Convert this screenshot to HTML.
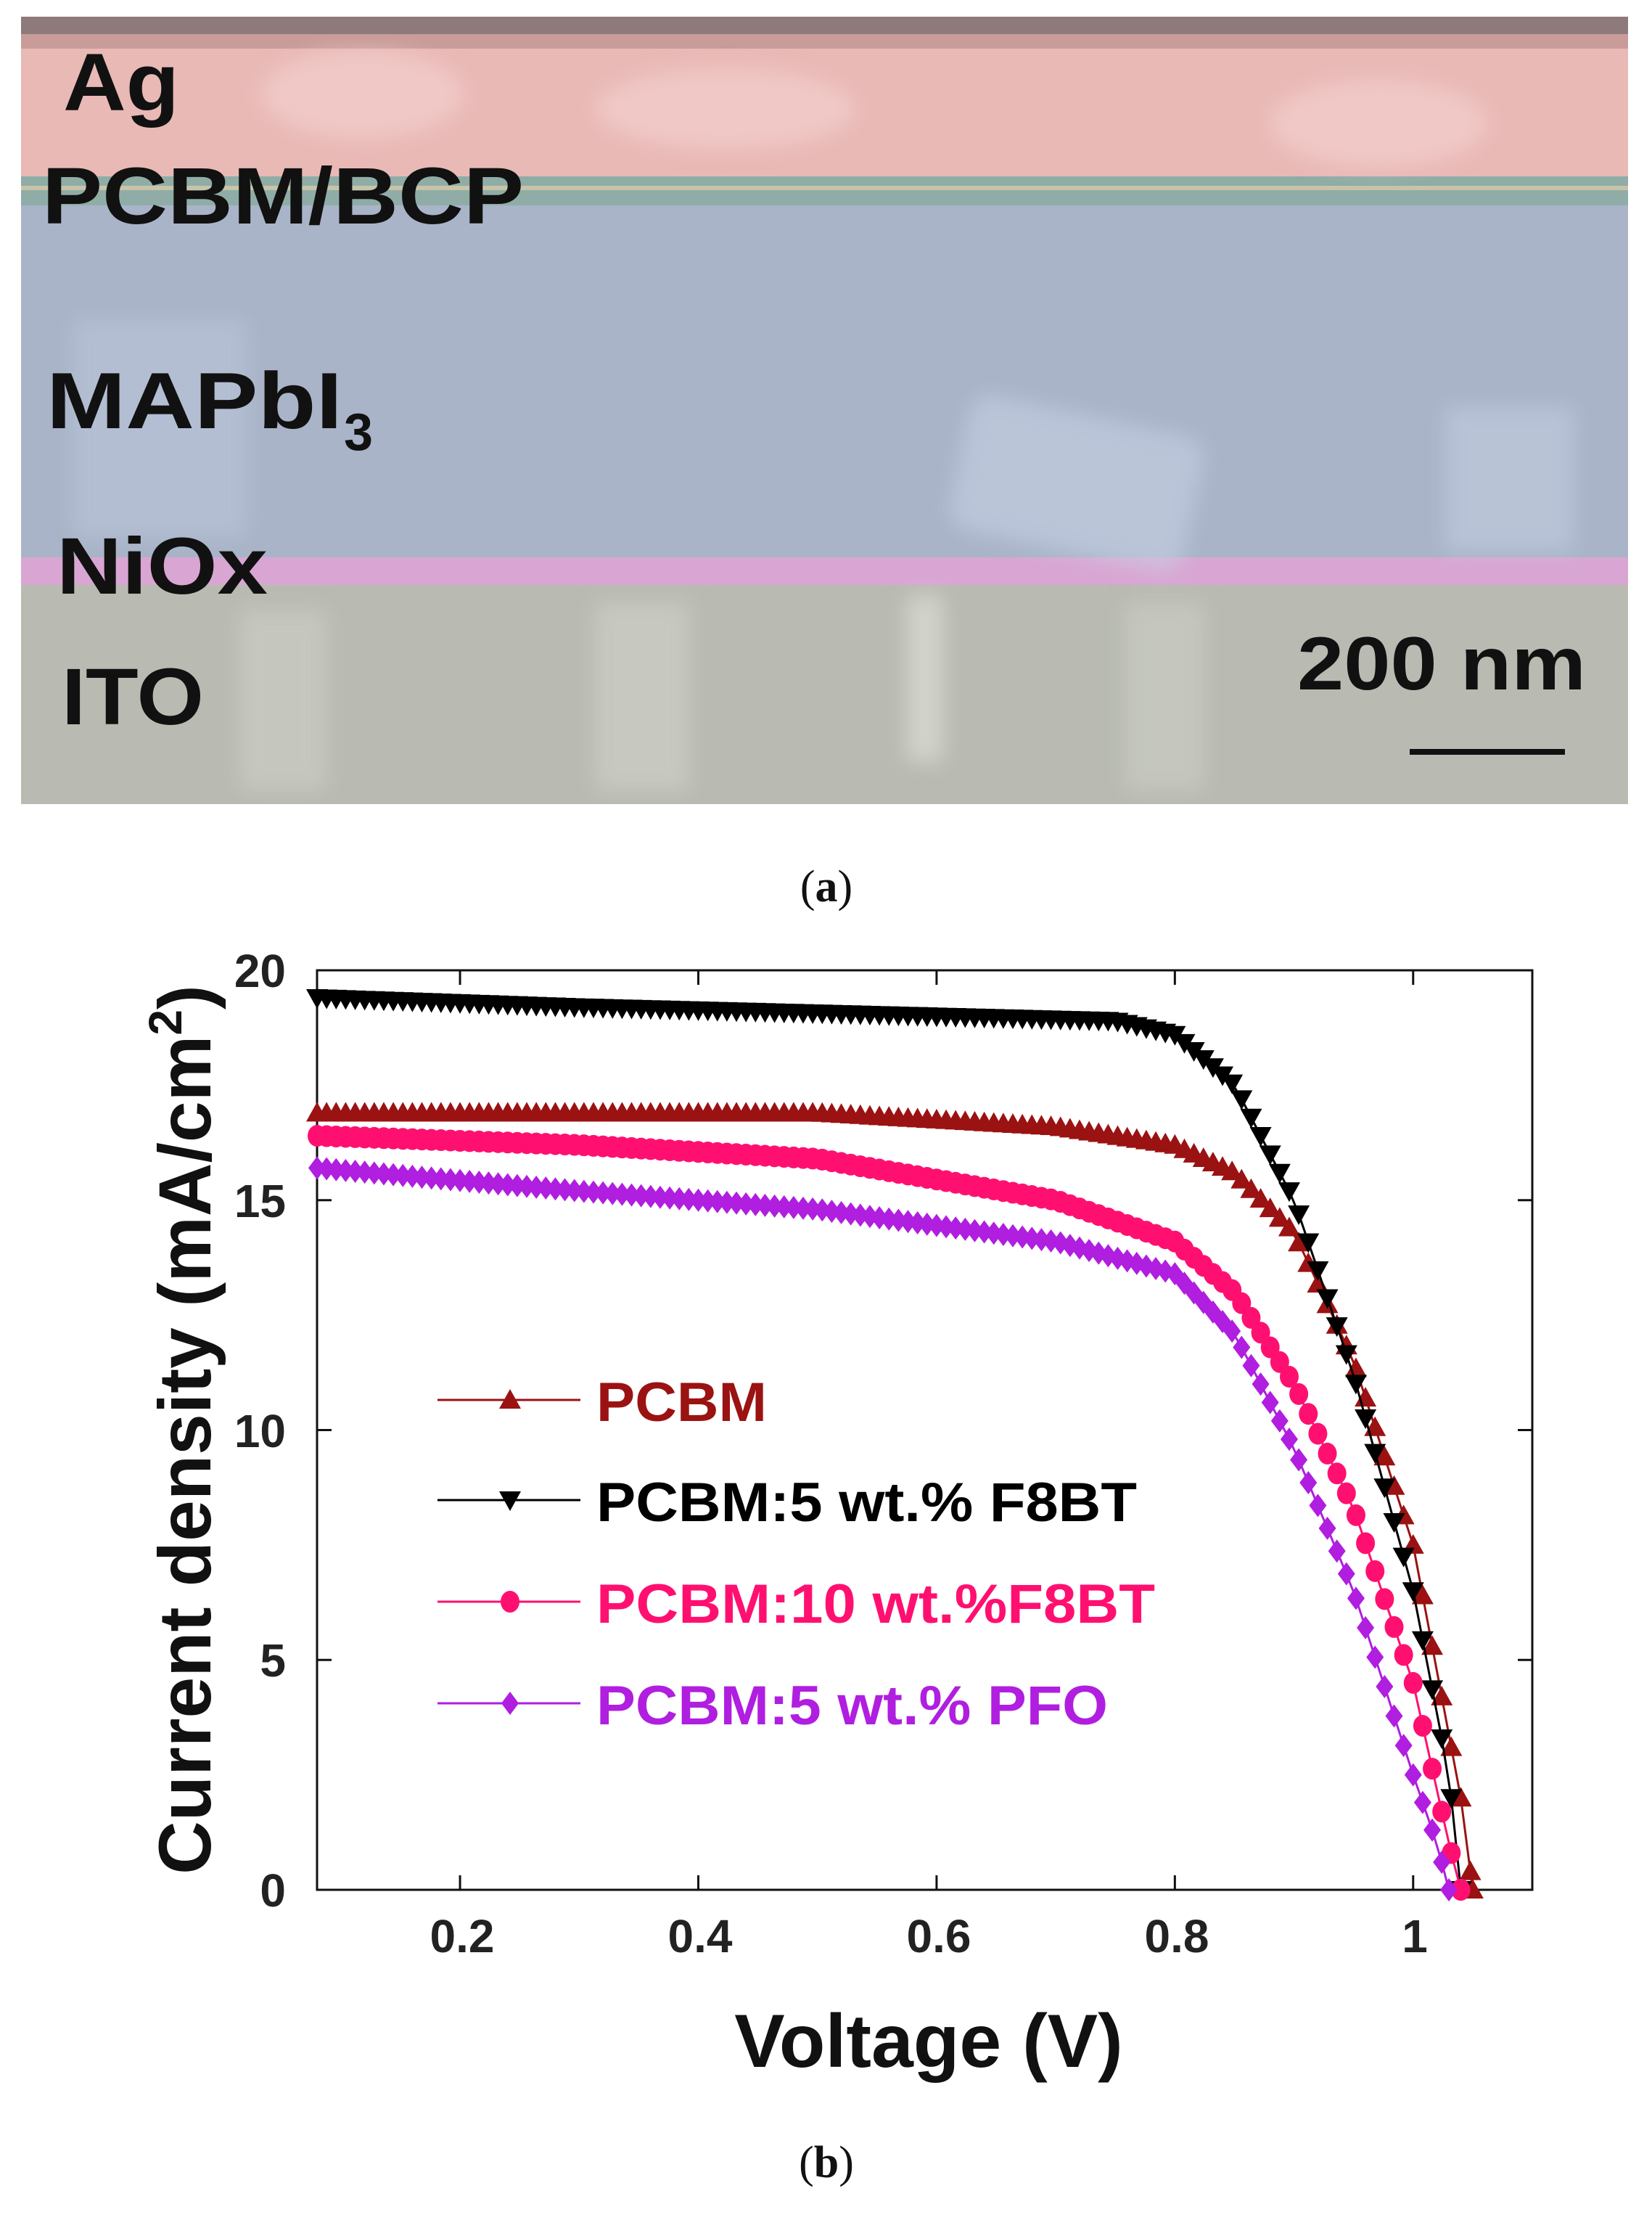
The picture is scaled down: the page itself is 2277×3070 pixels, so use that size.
<!DOCTYPE html>
<html><head><meta charset="utf-8"><style>
html,body{margin:0;padding:0;background:#fff}
svg{display:block}
</style></head><body>
<svg id="s" width="2277" height="3070" viewBox="0 0 2277 3070" xmlns="http://www.w3.org/2000/svg">
<defs>
<filter id="bl" x="-20%" y="-20%" width="140%" height="140%"><feGaussianBlur stdDeviation="14"/></filter>
<clipPath id="semc"><rect x="29" y="23" width="2215" height="1085"/></clipPath>
</defs>
<g clip-path="url(#semc)">
<rect x="29" y="23" width="2215" height="1085" fill="#b9bbb2"/>
<rect x="29" y="23" width="2215" height="222" fill="#e9b9b6"/>
<rect x="29" y="23" width="2215" height="24" fill="#8e7a7a"/>
<rect x="29" y="47" width="2215" height="20" fill="#c99c9a"/>
<rect x="29" y="243" width="2215" height="40" fill="#8fada6"/>
<rect x="29" y="256" width="2215" height="6" fill="#c8c4a8"/>
<rect x="29" y="283" width="2215" height="485" fill="#a9b4c8"/>
<rect x="29" y="768" width="2215" height="38" fill="#d9a6d3"/>
<g filter="url(#bl)" opacity="0.55">
<ellipse cx="500" cy="130" rx="140" ry="60" fill="#f6d6d4"/>
<ellipse cx="1000" cy="150" rx="180" ry="55" fill="#f6d6d4"/>
<ellipse cx="1900" cy="170" rx="150" ry="60" fill="#f6d6d4"/>
<rect x="1320" y="570" width="330" height="190" rx="30" fill="#c9d3e6" transform="rotate(12 1480 660)"/>
<rect x="1990" y="560" width="180" height="200" fill="#c5cfe2"/>
<rect x="100" y="440" width="240" height="300" fill="#bcc7dc"/>
<rect x="330" y="840" width="120" height="250" fill="#d0d2ca"/>
<rect x="820" y="830" width="130" height="260" fill="#d3d5cd"/>
<rect x="1250" y="820" width="50" height="230" fill="#e6e8e0"/>
<rect x="1550" y="830" width="110" height="260" fill="#cfd1c9"/>
</g>
</g>
<g font-family="Liberation Sans, sans-serif" font-weight="bold" fill="#111">
<text x="87" y="152" font-size="112" textLength="160" lengthAdjust="spacingAndGlyphs">Ag</text>
<text x="58" y="308" font-size="110" textLength="664" lengthAdjust="spacingAndGlyphs">PCBM/BCP</text>
<text x="64" y="590" font-size="110" textLength="408" lengthAdjust="spacingAndGlyphs">MAPbI</text>
<text x="474" y="620" font-size="72">3</text>
<text x="78" y="818" font-size="110" textLength="291" lengthAdjust="spacingAndGlyphs">NiOx</text>
<text x="85" y="998" font-size="110" textLength="196" lengthAdjust="spacingAndGlyphs">ITO</text>
<text x="1788" y="950" font-size="104" textLength="398" lengthAdjust="spacingAndGlyphs">200 nm</text>
</g>
<rect x="1943" y="1032" width="214" height="8" fill="#111"/>
<text x="1139" y="1242" font-family="Liberation Serif, serif" font-size="62" text-anchor="middle" fill="#111">(<tspan font-weight="bold">a</tspan>)</text>

<rect x="437" y="1337" width="1675" height="1267" fill="none" stroke="#111" stroke-width="3"/>
<g id="ticks" stroke="#111" stroke-width="3"></g>
<g id="series"></g>
<g font-family="Liberation Sans, sans-serif" font-weight="bold" fill="#222" font-size="64">
<text x="394" y="1360" text-anchor="end">20</text>
<text x="394" y="1677" text-anchor="end">15</text>
<text x="394" y="1994" text-anchor="end">10</text>
<text x="394" y="2310" text-anchor="end">5</text>
<text x="394" y="2627" text-anchor="end">0</text>
<text x="637" y="2690" text-anchor="middle">0.2</text>
<text x="965" y="2690" text-anchor="middle">0.4</text>
<text x="1294" y="2690" text-anchor="middle">0.6</text>
<text x="1622" y="2690" text-anchor="middle">0.8</text>
<text x="1950" y="2690" text-anchor="middle">1</text>
</g>
<text x="1280" y="2848" font-family="Liberation Sans, sans-serif" font-weight="bold" font-size="104" text-anchor="middle" fill="#111">Voltage (V)</text>
<text transform="translate(290 1970) rotate(-90)" font-family="Liberation Sans, sans-serif" font-weight="bold" font-size="102" text-anchor="middle" fill="#111">Current density (mA/cm<tspan dy="-40" font-size="64">2</tspan><tspan dy="40">)</tspan></text>
<g font-family="Liberation Sans, sans-serif" font-weight="bold" font-size="76">
<text x="822" y="1958" fill="#9b1212" textLength="235" lengthAdjust="spacingAndGlyphs">PCBM</text>
<text x="822" y="2096" fill="#000" textLength="745" lengthAdjust="spacingAndGlyphs">PCBM:5 wt.% F8BT</text>
<text x="822" y="2236" fill="#ff1070" textLength="770" lengthAdjust="spacingAndGlyphs">PCBM:10 wt.%F8BT</text>
<text x="822" y="2376" fill="#b01ee0" textLength="705" lengthAdjust="spacingAndGlyphs">PCBM:5 wt.% PFO</text>
</g>
<g id="legend"></g>
<text x="1139" y="3000" font-family="Liberation Serif, serif" font-size="62" text-anchor="middle" fill="#111">(<tspan font-weight="bold">b</tspan>)</text>
</svg>
<script>
var NS="http://www.w3.org/2000/svg";
function X(v){return 437+(v-0.08)/1.02*1675;}
function Y(j){return 2604-j/20*1267;}
function el(p,t,a){var e=document.createElementNS(NS,t);for(var k in a)e.setAttribute(k,a[k]);p.appendChild(e);return e;}
var tk=document.getElementById('ticks');
[0.2,0.4,0.6,0.8,1].forEach(function(v){var x=X(v);el(tk,'line',{x1:x,y1:2604,x2:x,y2:2584});el(tk,'line',{x1:x,y1:1337,x2:x,y2:1357});});
[5,10,15].forEach(function(j){var y=Y(j);el(tk,'line',{x1:437,y1:y,x2:457,y2:y});el(tk,'line',{x1:2112,y1:y,x2:2092,y2:y});});
var S=[
 {c:"#9b1212",m:"up",p:[[0.08,16.9],[0.5,16.9],[0.7,16.6],[0.8,16.2],[0.85,15.6],[0.9,14.3],[0.95,11.5],[1.0,7.5],[1.04,2.0],[1.05,0]]},
 {c:"#000",m:"down",p:[[0.08,19.4],[0.3,19.2],[0.6,19.0],[0.75,18.9],[0.8,18.6],[0.85,17.5],[0.9,15.0],[0.95,11.2],[1.0,6.5],[1.03,2.5],[1.04,0]]},
 {c:"#ff1070",m:"circ",p:[[0.08,16.4],[0.3,16.2],[0.5,15.9],[0.7,15.0],[0.8,14.1],[0.85,13.0],[0.9,11.0],[0.95,8.3],[1.0,4.5],[1.03,1.0],[1.04,0]]},
 {c:"#b01ee0",m:"dia",p:[[0.08,15.7],[0.3,15.2],[0.5,14.8],[0.7,14.1],[0.8,13.4],[0.85,12.1],[0.9,9.6],[0.95,6.5],[1.0,2.5],[1.02,1.0],[1.03,0]]}
];
function interp(p,v){for(var i=0;i<p.length-1;i++){if(v<=p[i+1][0]){var t=(v-p[i][0])/(p[i+1][0]-p[i][0]);return p[i][1]+t*(p[i+1][1]-p[i][1]);}}return p[p.length-1][1];}
function marker(g,m,x,y,c){var r=15;
 if(m=="up")el(g,'polygon',{points:(x)+","+(y-r)+" "+(x-r)+","+(y+r*0.8)+" "+(x+r)+","+(y+r*0.8),fill:c});
 else if(m=="down")el(g,'polygon',{points:(x)+","+(y+r)+" "+(x-r)+","+(y-r*0.8)+" "+(x+r)+","+(y-r*0.8),fill:c});
 else if(m=="circ")el(g,'ellipse',{cx:x,cy:y,rx:13,ry:15,fill:c});
 else el(g,'polygon',{points:x+","+(y-16)+" "+(x+12)+","+y+" "+x+","+(y+16)+" "+(x-12)+","+y,fill:c});}
var sg=document.getElementById('series');
S.forEach(function(s){var g=el(sg,'g',{});var end=s.p[s.p.length-1][0];var pts=[];
 for(var v=0.08;v<=end+1e-9;v+=0.008){pts.push([X(v),Y(interp(s.p,v))]);}
 pts.push([X(end),Y(0)]);
 el(g,'polyline',{points:pts.map(function(q){return q.join(',')}).join(' '),fill:'none',stroke:s.c,'stroke-width':3});
 pts.forEach(function(q){marker(g,s.m,q[0],q[1],s.c);});});
var lg=document.getElementById('legend');
[1929,2067,2207,2347].forEach(function(y,i){var s=S[i];el(lg,'line',{x1:603,y1:y,x2:800,y2:y,stroke:s.c,'stroke-width':3});marker(lg,s.m,703,y,s.c);});
</script>
</body></html>
